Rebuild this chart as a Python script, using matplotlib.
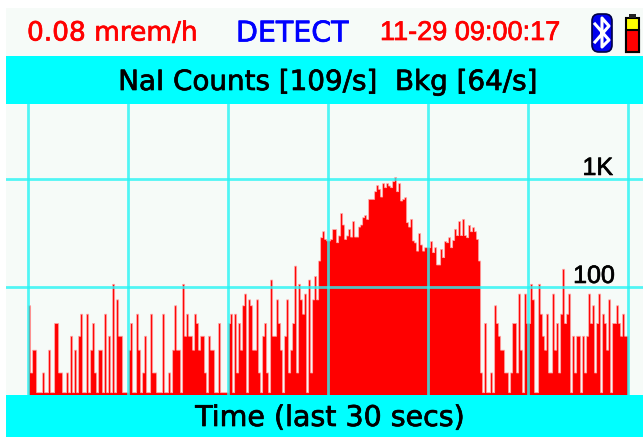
#!/usr/bin/env python3
"""NaI counts rate screen from a handheld detector"""

import numpy as np
import matplotlib
matplotlib.use('Agg')
import matplotlib.pyplot as plt
import matplotlib.patheffects as pe
from matplotlib.patches import FancyBboxPatch, Rectangle

W, H = 643, 437

# recurring count levels of the quiet part of the trace
Z, A, B, C, D, E, F, G, I_, J = 10.5, 16, 26, 35, 46, 56, 67, 76, 106, 116
Hh = 86

# counts per bin, 300 bins for the last 30 secs
counts_0_49 = [F, A, B, B, Z, Z, Z, A, Z, Z, B, Z, Z, D, D, A, A, Z, Z, A,
               Z, C, Z, B, Z, C, E, Z, Z, E, Z, B, D, A, Z, B, B, Z, E, Z,
               C, Z, I_, Z, G, C, C, Z, Z, Z]
counts_50_99 = [B, D, Z, Z, E, B, Z, A, C, Z, Z, E, A, A, Z, Z, Z, E, Z, Z,
                A, Z, B, F, B, B, Z, I_, C, E, C, C, B, E, D, B, C, C, A, Z,
                C, B, B, Z, Z, D, Z, Z, Z, Z]
counts_100_149 = [D, E, Z, E, A, D, B, F, Hh, Z, G, F, B, B, G, A, Z, C, D, A,
                  Z, J, C, C, G, D, B, Z, C, G, A, B, D, 156, A, I_, G, E, Hh, Z,
                  J, A, G, 125, G, 174, 286, 325, 276, 267]
counts_150_199 = [267, 276, 340, 340, 257, 297, 478, 375, 276, 297, 340, 290, 403, 290, 290, 359, 375, 438, 458, 423,
                  648, 648, 648, 763, 868, 802, 681, 905, 831, 905, 861, 831, 945, 1029, 763, 905, 626, 648, 671, 394,
                  359, 423, 267, 256, 215, 312, 245, 215, 231, 231]
counts_200_249 = [231, 263, 208, 231, 160, 160, 223, 187, 263, 257, 286, 231, 270, 342, 299, 403, 299, 423, 299, 286,
                  372, 325, 354, 325, 276, 174, A, Z, D, Z, Z, A, Z, F, D, C, B, B, A, A,
                  Z, A, D, D, A, Hh, B, Z, Hh, D]
counts_250_299 = [D, I_, G, Z, Z, I_, E, C, B, E, A, A, Hh, B, D, A, E, 146, D, E,
                  Hh, Z, C, A, C, C, Z, C, A, C, Hh, D, F, A, D, Hh, Z, E, D, B,
                  G, Z, D, D, F, D, C, E, C, C]

counts = np.array(counts_0_49 + counts_50_99 + counts_100_149
                  + counts_150_199 + counts_200_249 + counts_250_299)
edges = np.arange(len(counts) + 1) * 0.1 + 0.033

grid_x = [0, 5, 10, 15, 20, 25, 30]
grid_y = [100, 1000]

BG = '#f6fbf8'
CYAN = '#00ffff'


def px(x0, y0, x1, y1):
    # pixel box (top left origin) to figure fractions
    return [x0 / W, 1 - y1 / H, (x1 - x0) / W, (y1 - y0) / H]


def heavy(color):
    # the screen font is thicker than the regular weight
    return [pe.withStroke(linewidth=0.5, foreground=color)]


fig = plt.figure(figsize=(W / 100, H / 100), dpi=100, facecolor='white')

# overlay in pixel coords for the screen panels and icons
bg = fig.add_axes([0, 0, 1, 1], zorder=0)
bg.set_xlim(0, W)
bg.set_ylim(H, 0)
bg.axis('off')
bg.add_patch(Rectangle((6, 8), W - 6, H - 8, color=BG, lw=0))
bg.add_patch(Rectangle((6, 56), W - 6, 48, color=CYAN, lw=0))
bg.add_patch(Rectangle((6, 395), W - 6, 42, color=CYAN, lw=0))

# chart area, 20 px per second, one decade = 108 px
ax = fig.add_axes(px(6, 104, 643, 395), zorder=1)
ax.patch.set_alpha(0)
ax.set_yscale('log')
ax.set_xlim(-22 / 20, 615 / 20)
ax.set_ylim(10, 10 ** (1 + 291 / 108))
for s in ax.spines.values():
    s.set_visible(False)
ax.stairs(counts, edges, baseline=10, fill=True, facecolor='#ff0000', edgecolor='#ffa8a8',
          lw=0.55, snap=False, zorder=2)
ax.set_xticks(grid_x)
ax.set_yticks(grid_y)
ax.minorticks_off()
ax.tick_params(length=0, labelbottom=False, labelleft=False)
ax.grid(True, color='#28f4f4', lw=2.0, alpha=0.8, zorder=3)
ax.set_axisbelow(False)
ax.text(29.25, 1000 * 0.98, '1K', ha='right', va='bottom', fontsize=18, color='black',
        family='Liberation Sans', path_effects=heavy('black'), zorder=4)
ax.text(29.35, 100 * 0.98, '100', ha='right', va='bottom', fontsize=18, color='black',
        family='Liberation Sans', path_effects=heavy('black'), zorder=4)

# header and band texts
top = fig.add_axes([0, 0, 1, 1], zorder=2)
top.set_xlim(0, W)
top.set_ylim(H, 0)
top.axis('off')
top.text(27, 33.5, '0.08 mrem/h', color='#ff0000', fontsize=19, va='center', ha='left',
         path_effects=heavy('#ff0000'))
top.text(236, 33.5, 'DETECT', color='#0000ff', fontsize=20.5, va='center', ha='left',
         path_effects=heavy('#0000ff'))
top.text(380, 33, '11-29 09:00:17', color='#ff0000', fontsize=19.5, va='center', ha='left',
         family='Liberation Sans', path_effects=heavy('#ff0000'))
top.text(328, 82, 'NaI Counts [109/s]  Bkg [64/s]', color='black', fontsize=20, va='center', ha='center',
         path_effects=heavy('black'))
top.text(330, 418, 'Time (last 30 secs)', color='black', fontsize=20.5, va='center', ha='center',
         path_effects=heavy('black'))

# bluetooth badge
top.add_patch(FancyBboxPatch((592, 14), 20, 38, boxstyle='round,pad=0,rounding_size=7',
                             fc='#0000ee', ec='#000044', lw=1.2, mutation_scale=1))
top.plot([595, 609, 602, 602, 609, 595], [24, 40, 47, 18, 26, 42], color='white', lw=2.2)

# battery
top.add_patch(Rectangle((626, 18), 13, 34, fc='#ffff00', ec='black', lw=1.5))
top.add_patch(Rectangle((626, 30), 13, 22, fc='#ff0000', ec='black', lw=1.5))
top.add_patch(Rectangle((629, 14), 7, 4, fc='#222222', lw=0))

fig.savefig('out.png', dpi=100, facecolor='white')
